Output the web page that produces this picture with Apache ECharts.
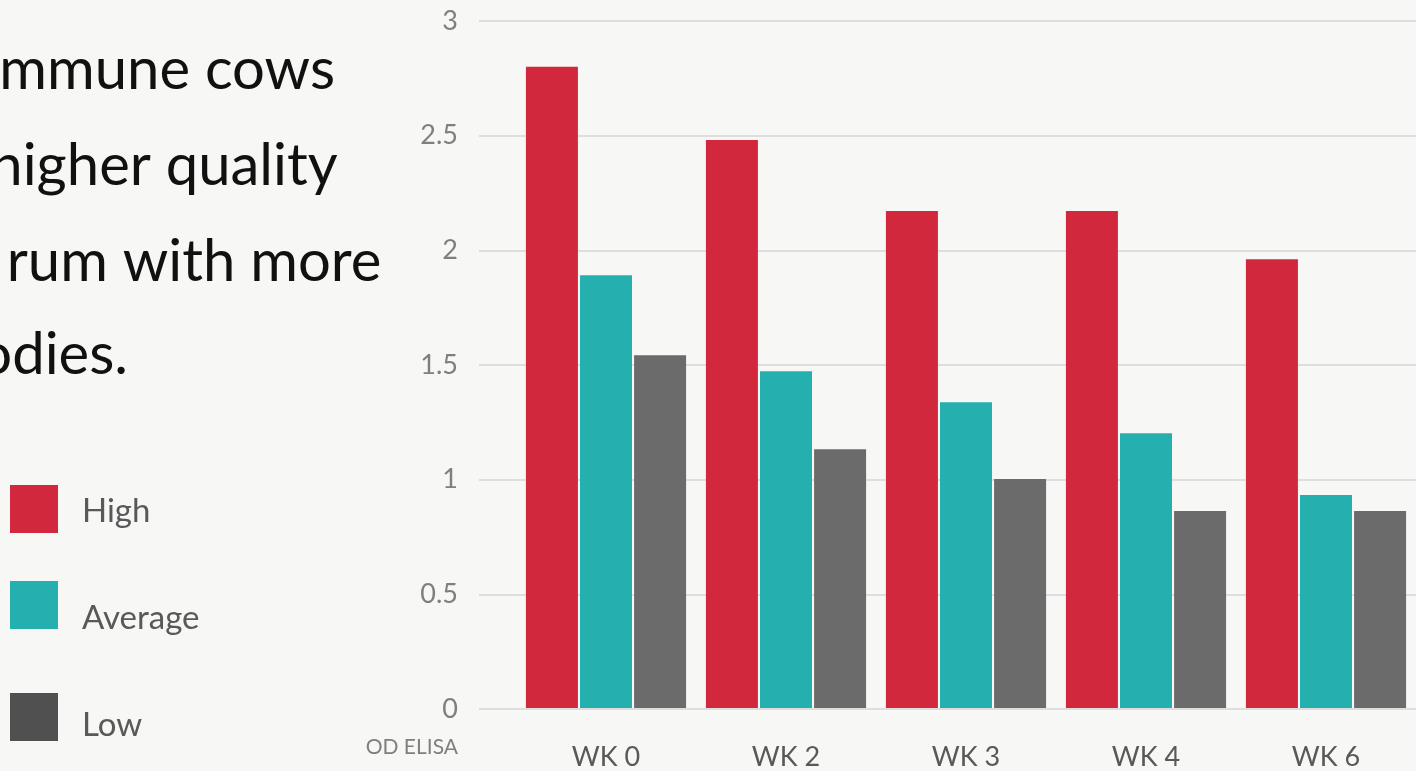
<!DOCTYPE html>
<html>
<head>
<meta charset="utf-8">
<script src="https://cdn.jsdelivr.net/npm/echarts@6/dist/echarts.min.js"></script>
<style>
html,body{margin:0;padding:0;background:#f7f7f6;}
#chart{width:1416px;height:771px;}
</style>
</head>
<body>
<div id="chart"></div>
<script>
const categories = ['WK 0', 'WK 2', 'WK 3', 'WK 4', 'WK 6'];
const seriesNames = ['High', 'Average', 'Low'];
const high = [2.8, 2.48, 2.17, 2.17, 1.96];
const average = [1.89, 1.47, 1.335, 1.2, 0.93];
const low = [1.54, 1.13, 1.0, 0.86, 0.86];
const yTickMin = 0, yTickMax = 3, yTickStep = 0.5;
const titleLines = ['mmune cows', 'higher quality', 'rum with more', 'bodies.'];
const axisName = 'OD ELISA';

const colors = ['#d2283d', '#25afae', '#6b6b6b'];
const legendColors = ['#d2283d', '#25afae', '#505050'];

const chart = echarts.init(document.getElementById('chart'));
const font = 'Lato, "Open Sans", sans-serif';

const titleX = [335, 164, 194, 128];
const titleAlign = ['right', 'center', 'center', 'right'];
const titleBase = [90, 186, 282, 375];
const legendTops = [485, 581, 693];
const legendPadTop = [4, 26, 16];

const option = {
  backgroundColor: '#f7f7f6',
  animation: false,
  grid: [
    {left: 479, right: 0, top: 21, bottom: 62},
    {left: 516, right: 0, top: 21, bottom: 62}
  ],
  legend: seriesNames.map((n, i) => ({
    data: [n], left: 10, top: legendTops[i], padding: 0,
    itemWidth: 48, itemHeight: 48, icon: 'rect', orient: 'vertical',
    itemStyle: {color: legendColors[i]},
    formatter: '{a|{name}}',
    textStyle: {
      fontFamily: font, fontSize: 33, color: '#595959',
      rich: {a: {fontFamily: font, fontSize: 33, color: '#595959', padding: [legendPadTop[i], 0, 0, 19]}}
    }
  })),
  xAxis: [
    {gridIndex: 0, type: 'value', show: false},
    {gridIndex: 1, type: 'category', data: categories,
     axisLine: {show: false}, axisTick: {show: false},
     axisLabel: {fontFamily: font, fontSize: 27, color: '#595959', margin: 36}}
  ],
  yAxis: [
    {gridIndex: 0, type: 'value', min: yTickMin, max: yTickMax, interval: yTickStep,
     axisLine: {show: false}, axisTick: {show: false},
     axisLabel: {fontFamily: font, fontSize: 27, color: '#7f7f7f', margin: 21},
     splitLine: {lineStyle: {color: '#d6d6d6', width: 1.5}}},
    {gridIndex: 1, type: 'value', min: yTickMin, max: yTickMax, interval: yTickStep, show: false,
     splitLine: {show: false}}
  ],
  series: [high, average, low].map((d, i) => ({
    name: seriesNames[i], type: 'bar', xAxisIndex: 1, yAxisIndex: 1,
    data: d, barWidth: 52, barGap: '4%',
    itemStyle: {color: colors[i]}
  })),
  graphic: titleLines.map((t, i) => ({
    type: 'text', x: titleX[i], y: titleBase[i] - 49,
    style: {text: t, fontFamily: font, fontSize: 58, fill: '#111111', textAlign: titleAlign[i]}
  })).concat([{
    type: 'text', right: 1416 - 458, top: 737,
    style: {text: axisName, fontFamily: font, fontSize: 21, fill: '#7f7f7f', textAlign: 'right'}
  }])
};
chart.setOption(option);
</script>
</body>
</html>
